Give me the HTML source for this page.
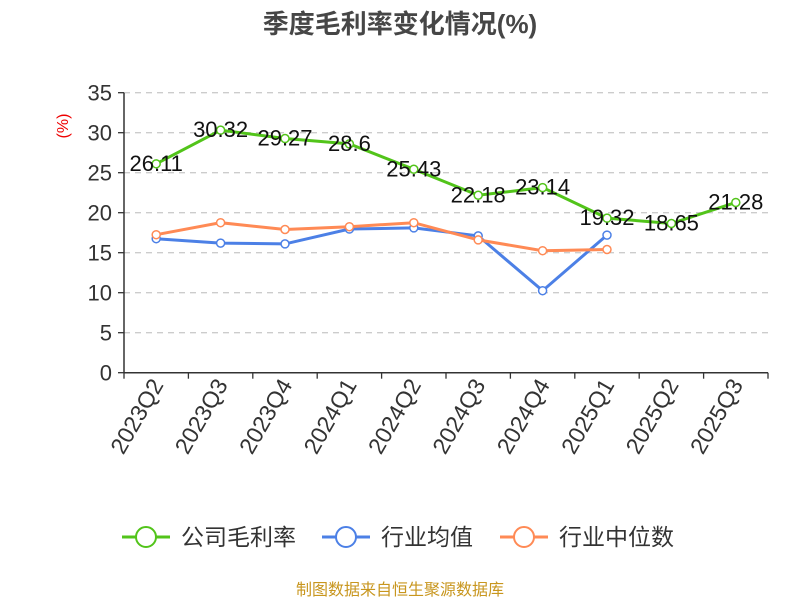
<!DOCTYPE html>
<html><head><meta charset="utf-8"><style>
body{margin:0;background:#fff;}
svg text{font-family:"Liberation Sans","Noto Sans CJK SC",sans-serif;}
</style></head><body>
<svg width="800" height="600" id="c">
<text x="400" y="33" text-anchor="middle" font-size="26" font-weight="bold" fill="#464646">季度毛利率变化情况(%)</text>
<text transform="translate(68,126) rotate(-90)" text-anchor="middle" font-size="16" fill="#e00">(%)</text>
<g id="grid"></g><g id="series"></g>
<g font-size="23" fill="#333">
 <g><line x1="122" y1="537" x2="170" y2="537" stroke="#52c41a" stroke-width="3"/><circle cx="146" cy="537" r="10" fill="#fff" stroke="#52c41a" stroke-width="2"/><text x="181" y="545">公司毛利率</text></g>
 <g><line x1="322" y1="537" x2="370" y2="537" stroke="#4c80e6" stroke-width="3"/><circle cx="346" cy="537" r="10" fill="#fff" stroke="#4c80e6" stroke-width="2"/><text x="381" y="545">行业均值</text></g>
 <g><line x1="500" y1="537" x2="548" y2="537" stroke="#ff8a55" stroke-width="3"/><circle cx="524" cy="537" r="10" fill="#fff" stroke="#ff8a55" stroke-width="2"/><text x="559" y="545">行业中位数</text></g>
</g>
<text x="400" y="595" text-anchor="middle" font-size="16" fill="#c8961e">制图数据来自恒生聚源数据库</text>
</svg>
<script>
const categories=["2023Q2","2023Q3","2023Q4","2024Q1","2024Q2","2024Q3","2024Q4","2025Q1","2025Q2","2025Q3"];
const grossMargin=[26.11,30.32,29.27,28.6,25.43,22.18,23.14,19.32,18.65,21.28];
const industryAvg=[16.75,16.2,16.1,17.96,18.1,17.1,10.25,17.2];
const industryMedian=[17.25,18.75,17.9,18.25,18.75,16.6,15.25,15.4];
const yTicks=[0,5,10,15,20,25,30,35];
const NS="http://www.w3.org/2000/svg";
const L=124,R=768,Y0=372.7,PU=8.0;
const bw=(R-L)/categories.length;
const xs=i=>L+bw*(i+0.5), ys=v=>Y0-v*PU;
function mk(t,a,p){const e=document.createElementNS(NS,t);for(const k in a)e.setAttribute(k,a[k]);p.appendChild(e);return e;}
const g=document.getElementById('grid'),s=document.getElementById('series');
yTicks.forEach(v=>{
 if(v>0){const gl=mk('line',{x1:L,x2:R,y1:ys(v),y2:ys(v),stroke:'#ccc','stroke-width':1.3,'stroke-dasharray':'6,5'},g);
 
 }
 mk('line',{x1:L-6,x2:L,y1:ys(v),y2:ys(v),stroke:'#333','stroke-width':1.3},g);
 const t=mk('text',{x:L-12,y:ys(v)+8,'text-anchor':'end','font-size':22,fill:'#333'},g);t.textContent=v;
 
 
});
mk('line',{x1:L,x2:L,y1:ys(35),y2:Y0,stroke:'#333','stroke-width':1.5},g);
mk('line',{x1:L,x2:R,y1:Y0,y2:Y0,stroke:'#333','stroke-width':1.5},g);
for(let i=0;i<=categories.length;i++)mk('line',{x1:L+bw*i,x2:L+bw*i,y1:Y0,y2:Y0+6,stroke:'#333','stroke-width':1.3},g);
categories.forEach((c,i)=>{
 const x=xs(i)+8,y=Y0+12;
 const t=mk('text',{x:x,y:y,transform:`rotate(-60 ${x} ${y})`,'text-anchor':'end','font-size':23,fill:'#333'},g);t.textContent=c;
 
 
});
function line(vals,col,name,labels){
 const pl=mk('polyline',{points:vals.map((v,i)=>xs(i)+','+ys(v)).join(' '),fill:'none',stroke:col,'stroke-width':3},s);
 
 
 vals.forEach((v,i)=>{
  const c=mk('circle',{cx:xs(i),cy:ys(v),r:4,fill:'#fff',stroke:col,'stroke-width':1.5},s);
  
  
  if(labels){const t=mk('text',{x:xs(i),y:ys(v)+7,'text-anchor':'middle','font-size':22,fill:'#111'},s);t.textContent=v;
   
   }
 });
}
line(industryAvg,'#4c80e6','industry-avg',false);
line(industryMedian,'#ff8a55','industry-median',false);
line(grossMargin,'#52c41a','gross-margin',true);
</script>
</body></html>
